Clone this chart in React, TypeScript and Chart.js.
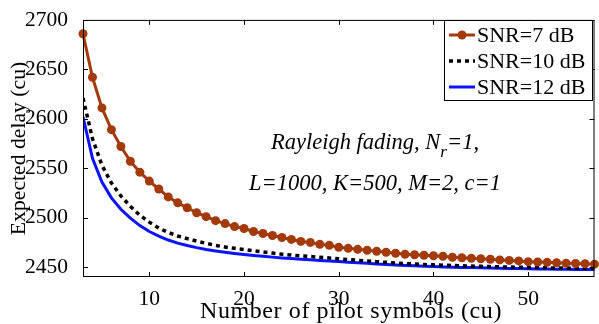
import React, { useEffect, useRef } from "react";
import { Chart, registerables } from "chart.js";

Chart.register(...registerables);

const pilotSymbols = [
  3, 4, 5, 6, 7, 8, 9, 10, 11, 12, 13, 14, 15, 16, 17, 18, 19, 20, 21, 22, 23, 24, 25, 26, 27, 28, 29, 30,
  31, 32, 33, 34, 35, 36, 37, 38, 39, 40, 41, 42, 43, 44, 45, 46, 47, 48, 49, 50, 51, 52, 53, 54, 55, 56, 57,
];

const snr7 = [
  2686, 2642, 2611, 2589, 2572, 2557, 2546, 2537, 2529, 2521, 2515, 2510, 2505, 2501, 2497, 2494, 2491, 2489,
  2486, 2484, 2482, 2480, 2478, 2476, 2475, 2473, 2472, 2470, 2469, 2468, 2467, 2466, 2465, 2464, 2463, 2462.5,
  2462, 2461.5, 2461, 2460, 2459.5, 2459, 2458.4, 2457.9, 2457.3, 2456.8, 2456.3, 2455.5, 2455.2, 2454.8,
  2454.4, 2454, 2453.7, 2453.4, 2453,
];

const snr10 = [
  2621, 2580, 2553, 2535, 2522, 2511.5, 2502.5, 2495.5, 2489.5, 2485, 2481.5, 2478.8, 2476.3, 2474, 2472,
  2470.3, 2469, 2467.8, 2466.5, 2465.3, 2464.2, 2463.1, 2462.2, 2461.4, 2460.7, 2460, 2459.2, 2458.4, 2457.6,
  2456.9, 2456.2, 2455.5, 2454.8, 2454.2, 2453.6, 2453.1, 2452.6, 2452.3, 2451.9, 2451.6, 2451.3, 2451,
  2450.8, 2450.5, 2450.3, 2450.1, 2449.9, 2449.7, 2449.5, 2449.3, 2449.1, 2449, 2448.8, 2448.6, 2448.5,
];

const snr12 = [
  2602, 2560, 2536, 2520, 2508.5, 2499.5, 2492, 2486, 2481.3, 2477.4, 2474.3, 2471.8, 2469.7, 2467.9, 2466.4,
  2465, 2463.8, 2462.8, 2461.8, 2460.9, 2460.1, 2459.3, 2458.6, 2458, 2457.4, 2456.8, 2456.2, 2455.6, 2455,
  2454.4, 2453.8, 2453.2, 2452.7, 2452.2, 2451.7, 2451.3, 2450.9, 2450.5, 2450.2, 2449.9, 2449.7, 2449.5,
  2449.3, 2449.1, 2448.9, 2448.7, 2448.5, 2448.4, 2448.2, 2448.1, 2447.9, 2447.8, 2447.7, 2447.6, 2447.5,
];

const seriesLabels = ["SNR=7 dB", "SNR=10 dB", "SNR=12 dB"];
const xTicks = [10, 20, 30, 40, 50];
const yTicks = [2450, 2500, 2550, 2600, 2650, 2700];
const xRange = [3, 57];
const yRange = [2440, 2700];
const xTitle = "Number of pilot symbols (cu)";
const yTitle = "Expected delay (cu)";

const SERIF = "'Liberation Serif', 'DejaVu Serif', serif";
const RED = "#a33a0c";
const BLUE = "#0a14ff";

const boxPlugin = {
  id: "boxAndExtras",
  afterDatasetsDraw(chart: any) {
    const { ctx, chartArea: a, scales } = chart;
    ctx.save();
    ctx.strokeStyle = "#000";
    ctx.lineWidth = 1;
    ctx.strokeRect(a.left + 0.5, a.top + 0.5, a.right - a.left - 1, a.bottom - a.top - 1);
    const tl = 5;
    ctx.beginPath();
    for (const v of xTicks) {
      const px = Math.round(scales.x.getPixelForValue(v)) + 0.5;
      ctx.moveTo(px, a.bottom);
      ctx.lineTo(px, a.bottom - tl);
      ctx.moveTo(px, a.top);
      ctx.lineTo(px, a.top + tl);
    }
    for (const v of yTicks) {
      const py = Math.round(scales.y.getPixelForValue(v)) + 0.5;
      ctx.moveTo(a.left, py);
      ctx.lineTo(a.left + tl, py);
      ctx.moveTo(a.right, py);
      ctx.lineTo(a.right - tl, py);
    }
    ctx.stroke();

    // x axis title (slightly letter-spaced like the reference)
    ctx.fillStyle = "#000";
    ctx.font = `24px ${SERIF}`;
    (ctx as any).letterSpacing = "0.6px";
    ctx.textAlign = "center";
    ctx.textBaseline = "alphabetic";
    ctx.fillText(xTitle, 351, 318);
    (ctx as any).letterSpacing = "0px";
    ctx.textAlign = "left";

    // annotation text
    const big = `italic 22.5px ${SERIF}`;
    const small = `italic 17px ${SERIF}`;
    ctx.font = big;
    const l1a = "Rayleigh fading, N";
    const l1b = "=1,";
    const w1a = ctx.measureText(l1a).width;
    const w1b = ctx.measureText(l1b).width;
    ctx.font = small;
    const wr = ctx.measureText("r").width;
    const total1 = w1a + wr + w1b;
    const cx = 375;
    const x0 = cx - total1 / 2;
    ctx.font = big;
    ctx.fillText(l1a, x0, 149);
    ctx.font = small;
    ctx.fillText("r", x0 + w1a, 157);
    ctx.font = big;
    ctx.fillText(l1b, x0 + w1a + wr, 149);
    ctx.textAlign = "center";
    ctx.fillText("L=1000, K=500, M=2, c=1", cx, 190);
    ctx.textAlign = "left";

    // legend
    const lx = 444.5, ly = 20.5, lw = 148, lh = 80;
    ctx.fillStyle = "#fff";
    ctx.fillRect(lx, ly, lw, lh);
    ctx.strokeStyle = "#000";
    ctx.lineWidth = 1;
    ctx.strokeRect(lx, ly, lw, lh);
    const rows = [35, 61, 87];
    chart.data.datasets.forEach((ds: any, i: number) => {
      const y = rows[i];
      ctx.save();
      ctx.strokeStyle = ds.borderColor;
      ctx.lineWidth = ds.borderWidth;
      ctx.setLineDash(ds.borderDash || []);
      ctx.beginPath();
      ctx.moveTo(449, y);
      ctx.lineTo(475, y);
      ctx.stroke();
      ctx.setLineDash([]);
      if (ds.pointRadius > 0) {
        ctx.fillStyle = ds.pointBackgroundColor;
        ctx.beginPath();
        ctx.arc(462, y, ds.pointRadius, 0, Math.PI * 2);
        ctx.fill();
      }
      ctx.restore();
      ctx.fillStyle = "#000";
      ctx.font = `22px ${SERIF}`;
      ctx.textBaseline = "middle";
      ctx.fillText(ds.label, 477, y + 1);
    });
    ctx.restore();
  },
};

export default function App() {
  const ref = useRef<HTMLCanvasElement | null>(null);
  useEffect(() => {
    if (!ref.current) return;
    const mk = (vals: number[]) => pilotSymbols.map((x, i) => ({ x, y: vals[i] }));
    const chart = new Chart(ref.current, {
      type: "line",
      data: {
        datasets: [
          {
            label: seriesLabels[0],
            data: mk(snr7),
            borderColor: RED,
            backgroundColor: RED,
            pointBackgroundColor: RED,
            pointBorderColor: RED,
            borderWidth: 3,
            pointRadius: 4.5,
            pointBorderWidth: 0,
            tension: 0,
            clip: false as any,
          },
          {
            label: seriesLabels[1],
            data: mk(snr10),
            borderColor: "#000",
            backgroundColor: "#000",
            borderWidth: 3.5,
            borderDash: [4, 4],
            pointRadius: 0,
            tension: 0,
          },
          {
            label: seriesLabels[2],
            data: mk(snr12),
            borderColor: BLUE,
            backgroundColor: BLUE,
            borderWidth: 3,
            pointRadius: 0,
            tension: 0,
          },
        ],
      },
      options: {
        animation: false,
        responsive: false,
        maintainAspectRatio: false,
        layout: { padding: { top: 15, right: 2, left: 0, bottom: 0 } },
        plugins: { legend: { display: false }, tooltip: { enabled: false } },
        scales: {
          x: {
            type: "linear",
            min: xRange[0],
            max: xRange[1],
            afterBuildTicks: (s: any) => {
              s.ticks = xTicks.map((v) => ({ value: v }));
            },
            afterFit: (s: any) => {
              s.height = 47;
            },
            grid: { display: false },
            border: { display: false },
            ticks: {
              color: "#000",
              font: { family: SERIF, size: 21.5 },
              padding: 1,
              maxRotation: 0,
              callback: (v: any) => String(v),
            },
            title: { display: false, text: xTitle },
          },
          y: {
            type: "linear",
            min: yRange[0],
            max: yRange[1],
            afterBuildTicks: (s: any) => {
              s.ticks = yTicks.map((v) => ({ value: v }));
            },
            afterFit: (s: any) => {
              s.width = 83;
            },
            grid: { display: false },
            border: { display: false },
            ticks: {
              color: "#000",
              font: { family: SERIF, size: 21.5 },
              padding: 7,
              callback: (v: any) => String(v),
            },
            title: {
              display: true,
              text: yTitle,
              color: "#000",
              font: { family: SERIF, size: 21.7 },
              padding: { top: 6, bottom: 0 },
            },
          },
        },
      },
      plugins: [boxPlugin],
    });
    return () => chart.destroy();
  }, []);
  return (
    <canvas
      ref={ref}
      width={599}
      height={324}
      style={{ position: "fixed", left: 0, top: 0, width: 599, height: 324, display: "block", background: "#fff" }}
    />
  );
}
